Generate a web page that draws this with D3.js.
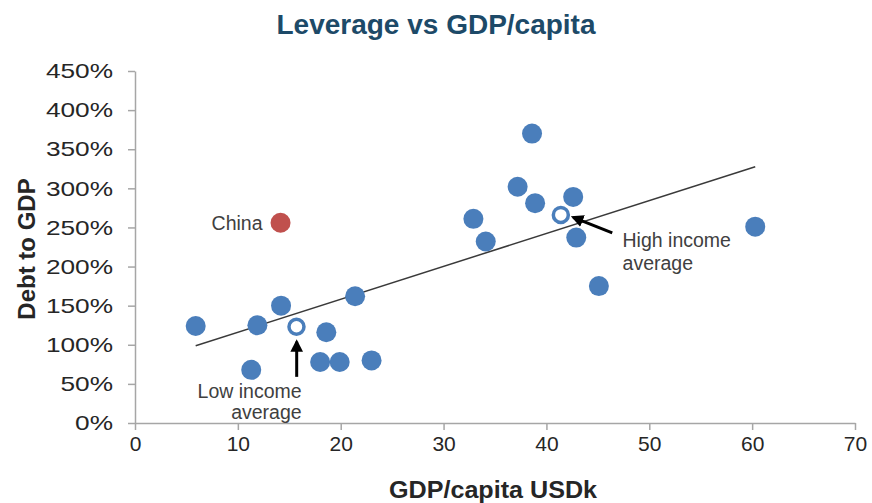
<!DOCTYPE html>
<html>
<head>
<meta charset="utf-8">
<script src="https://cdn.jsdelivr.net/npm/d3@7"></script>
<style>
  html, body { margin: 0; padding: 0; background: #fff; }
  svg text { font-family: "Liberation Sans", Arial, sans-serif; }
</style>
</head>
<body>
<svg id="chart" width="872" height="503"></svg>
<script>
// GDP per capita (USD thousands) and debt-to-GDP (%) for each country
const gdpPerCapita = [5.9, 11.3, 11.9, 14.2, 18.6, 18.0, 19.9, 21.4, 23.0,
                      32.9, 34.1, 37.2, 38.6, 38.9, 42.6, 42.9, 45.1, 60.3];
const debtToGdp    = [124, 68, 125, 150, 116, 78, 78, 162, 80,
                      261, 232, 302, 370, 281, 289, 237, 175, 251];

// Highlighted country
const chinaPoint = [14.15, 256];

// Group averages (hollow markers)
const averageNames = ["Low income average", "High income average"];
const averageGdp   = [15.7, 41.4];
const averageDebt  = [123, 266];

// Fitted trend line endpoints
const trendGdp  = [5.9, 60.3];
const trendDebt = [98.8, 327.7];

// Axis ticks
const xTicks = [0, 10, 20, 30, 40, 50, 60, 70];
const yTicks = [0, 50, 100, 150, 200, 250, 300, 350, 400, 450];

const svg = d3.select("#chart");
const margin = { left: 135, right: 17, top: 71, bottom: 80 };
const W = 872, H = 503;

const x = d3.scaleLinear().domain([0, 70]).range([margin.left, W - margin.right]);
const y = d3.scaleLinear().domain([0, 450]).range([H - margin.bottom, margin.top]);

const axisColor = "#a6a6a6";
const textColor = "#262626";
const blue = "#4a7ebb";
const red = "#c0504d";

// Title
svg.append("text")
  .attr("x", 436).attr("y", 34)
  .attr("text-anchor", "middle")
  .attr("font-size", 28).attr("font-weight", "bold")
  .attr("fill", "#1d4a68")
  .text("Leverage vs GDP/capita");

// Y axis (labels are set slightly wide)
const yStretch = 1.25;
const yAxis = svg.append("g")
  .attr("transform", `translate(${x(0)},0)`)
  .call(d3.axisLeft(y).tickValues(yTicks).tickSize(7).tickSizeOuter(0)
    .tickFormat(d => d + "%"));
yAxis.select(".domain").attr("stroke", axisColor).attr("stroke-width", 1.5);
yAxis.selectAll(".tick line").attr("stroke", axisColor).attr("stroke-width", 1.5);
yAxis.selectAll(".tick text")
  .attr("font-size", 21).attr("fill", textColor)
  .attr("x", -22 / yStretch)
  .attr("transform", `scale(${yStretch},1)`)
  .attr("font-family", "Liberation Sans, Arial, sans-serif");

// X axis
const xAxis = svg.append("g")
  .attr("transform", `translate(0,${y(0)})`)
  .call(d3.axisBottom(x).tickValues(xTicks).tickSize(7).tickSizeOuter(0));
xAxis.select(".domain").attr("stroke", axisColor).attr("stroke-width", 1.5);
xAxis.selectAll(".tick line").attr("stroke", axisColor).attr("stroke-width", 1.5);
xAxis.selectAll(".tick text")
  .attr("font-size", 21).attr("fill", textColor).attr("y", 13)
  .attr("font-family", "Liberation Sans, Arial, sans-serif");

// Axis titles
svg.append("text")
  .attr("x", (x(0) + x(70)) / 2 - 2).attr("y", 498)
  .attr("text-anchor", "middle")
  .attr("font-size", 24).attr("font-weight", "bold").attr("fill", textColor)
  .attr("textLength", 208).attr("lengthAdjust", "spacingAndGlyphs")
  .text("GDP/capita USDk");

svg.append("text")
  .attr("transform", `translate(35,${(y(0) + y(450)) / 2 + 2}) rotate(-90)`)
  .attr("text-anchor", "middle")
  .attr("font-size", 24).attr("font-weight", "bold").attr("fill", textColor)
  .text("Debt to GDP");

// Trend line
svg.append("line")
  .attr("x1", x(trendGdp[0])).attr("y1", y(trendDebt[0]))
  .attr("x2", x(trendGdp[1])).attr("y2", y(trendDebt[1]))
  .attr("stroke", "#3a3a3a").attr("stroke-width", 1.5);

// Country markers
const points = gdpPerCapita.map((g, i) => ({ g, d: debtToGdp[i] }));
svg.append("g").selectAll("circle")
  .data(points).join("circle")
  .attr("cx", p => x(p.g)).attr("cy", p => y(p.d))
  .attr("r", 10).attr("fill", blue);

// China
svg.append("circle")
  .attr("cx", x(chinaPoint[0])).attr("cy", y(chinaPoint[1]))
  .attr("r", 10).attr("fill", red);
svg.append("text")
  .attr("x", x(chinaPoint[0]) - 18).attr("y", y(chinaPoint[1]) + 7)
  .attr("text-anchor", "end").attr("font-size", 19.5).attr("fill", "#404040")
  .text("China");

// Average markers
const avgs = averageNames.map((n, i) => ({ n, g: averageGdp[i], d: averageDebt[i] }));
svg.append("g").selectAll("circle")
  .data(avgs).join("circle")
  .attr("cx", a => x(a.g)).attr("cy", a => y(a.d))
  .attr("r", 7.5).attr("fill", "#fff")
  .attr("stroke", blue).attr("stroke-width", 3.5);

// Arrows pointing to the averages
const defs = svg.append("defs");
defs.append("marker")
  .attr("id", "head").attr("viewBox", "0 0 10 10")
  .attr("refX", 8).attr("refY", 5)
  .attr("markerWidth", 4.2).attr("markerHeight", 4.2)
  .attr("markerUnits", "strokeWidth")
  .attr("orient", "auto")
  .append("path").attr("d", "M0,0 L10,5 L0,10 Z").attr("fill", "#000");

const arrows = [
  { from: [15.72, 59], to: [15.72, 104] },
  { from: [46.4, 243], to: [42.6, 263] }
];
svg.append("g").selectAll("line")
  .data(arrows).join("line")
  .attr("x1", a => x(a.from[0])).attr("y1", a => y(a.from[1]))
  .attr("x2", a => x(a.to[0])).attr("y2", a => y(a.to[1]))
  .attr("stroke", "#000").attr("stroke-width", 3)
  .attr("marker-end", "url(#head)");

// Average labels
const labelStyle = sel => sel.attr("font-size", 19.5).attr("fill", "#404040");
svg.append("text").call(labelStyle)
  .attr("x", x(16.2)).attr("y", y(32)).attr("text-anchor", "end").text("Low income");
svg.append("text").call(labelStyle)
  .attr("x", x(16.2)).attr("y", y(5)).attr("text-anchor", "end").text("average");
svg.append("text").call(labelStyle)
  .attr("x", x(47.4)).attr("y", y(225)).attr("text-anchor", "start").text("High income");
svg.append("text").call(labelStyle)
  .attr("x", x(47.4)).attr("y", y(195)).attr("text-anchor", "start").text("average");
</script>
</body>
</html>
